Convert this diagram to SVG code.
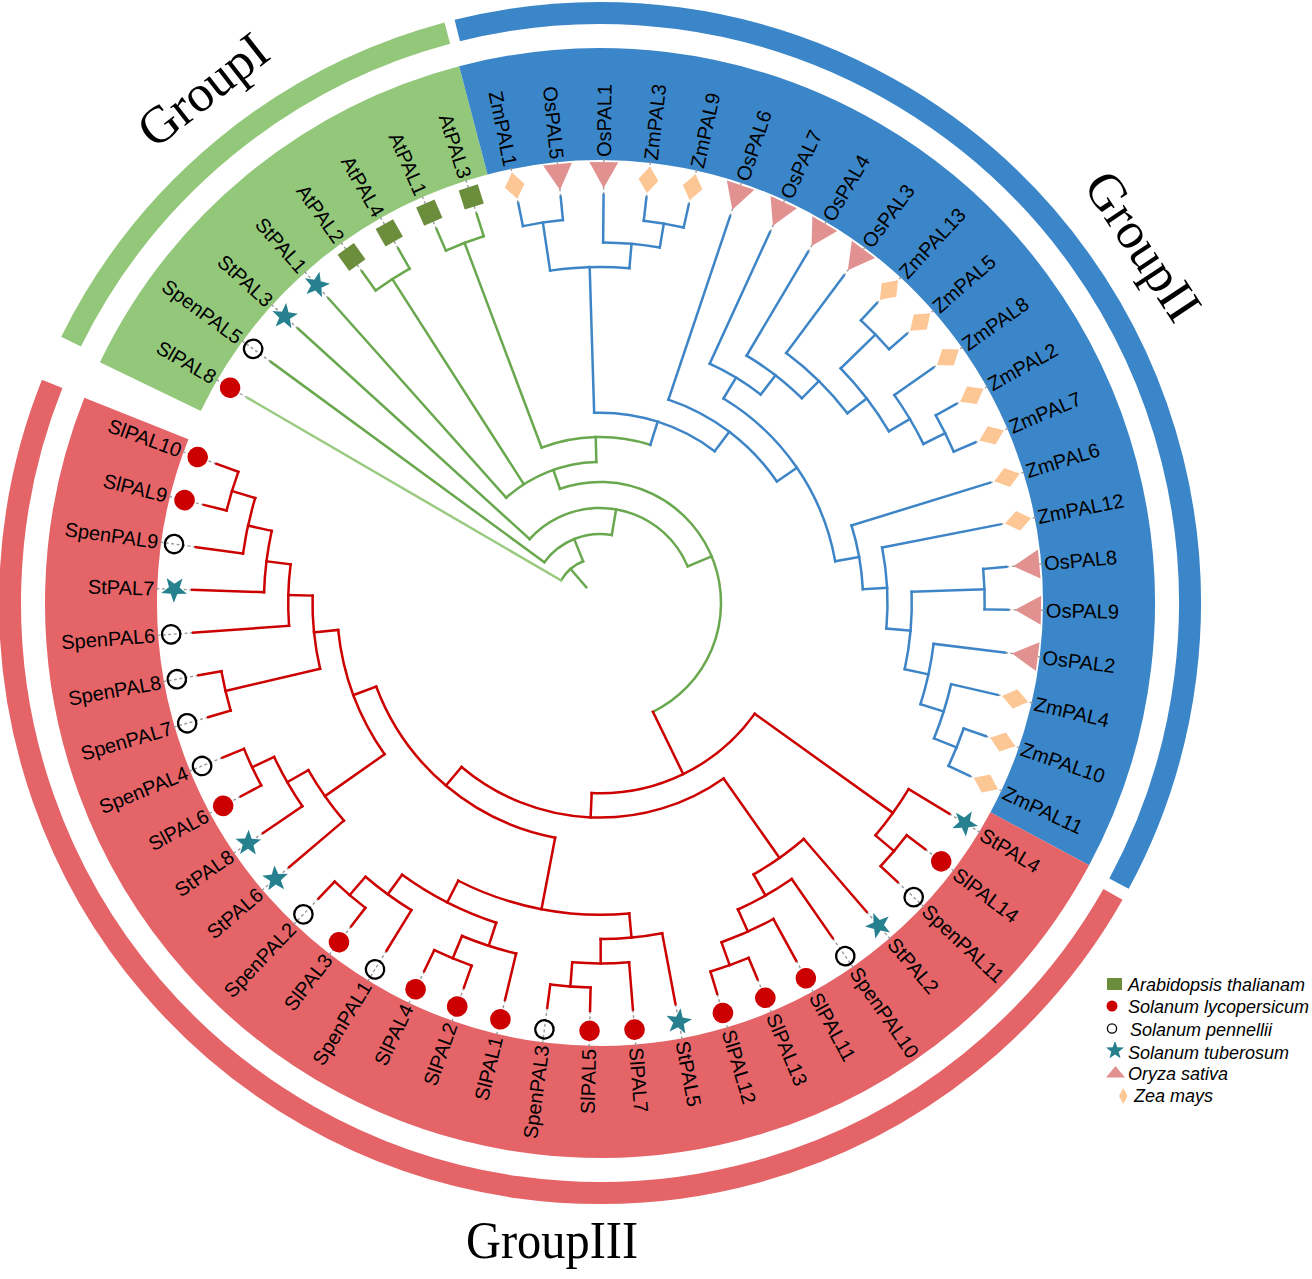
<svg xmlns="http://www.w3.org/2000/svg" width="1312" height="1279" viewBox="0 0 1312 1279">
<defs>
<style>
.t{font-family:"Liberation Sans",Arial,sans-serif;font-size:20px;fill:#000}
.e{text-anchor:end}
.gl{font-family:"Liberation Serif","Times New Roman",serif;font-size:52px;fill:#000}
.lg{font-family:"Liberation Sans",Arial,sans-serif;font-size:18px;font-style:italic;fill:#000}
.G{fill:none;stroke:#6aa84f;stroke-width:2.5;stroke-linecap:square}
.G2{stroke:#9acb80}
.B{fill:none;stroke:#3d85c6;stroke-width:2.5;stroke-linecap:square}
.R{fill:none;stroke:#cc0000;stroke-width:2.5;stroke-linecap:square}
.d{stroke:#9a9a9a;stroke-width:1.4;stroke-dasharray:3 2.5}
.band{fill:none;stroke-width:112}
.stripe{fill:none;stroke-width:22}
</style>
<polygon id="st0" points="0,-13.5 3.29,-4.53 12.84,-4.17 5.33,1.73 7.94,10.92 0,5.6 -7.94,10.92 -5.33,1.73 -12.84,-4.17 -3.29,-4.53" fill="#26808e"/>
<g id="star"><use href="#st0" transform="translate(426 0)"/></g>
<g id="dot"><circle cx="428" r="10.3" fill="#cc0000"/></g>
<g id="cir"><circle cx="430" r="9.2" fill="none" stroke="#000" stroke-width="2.3"/></g>
<g id="tri"><path d="M415,0 L441,-14.5 L441,14.5 Z" fill="#e29191"/></g>
<g id="dia"><path d="M412.7,0 L426,-10 L439.3,0 L426,10 Z" fill="#fdc695"/></g>
<g id="sq"><rect x="416" y="-10" width="20" height="20" fill="#6c8d3c"/></g>
</defs>
<rect width="1312" height="1279" fill="#fff"/>
<g id="bands" transform="translate(600 603)">
<circle class="band" r="499" stroke="#93c87b" pathLength="360" stroke-dasharray="49.6 310.4" transform="rotate(205.7)"/>
<circle class="band" r="499" stroke="#3a86c8" pathLength="360" stroke-dasharray="132.9 227.1" transform="rotate(255.3)"/>
<circle class="band" r="499" stroke="#e46468" pathLength="360" stroke-dasharray="173.5 186.5" transform="rotate(28.2)"/>
<circle class="stripe" r="590" stroke="#93c87b" pathLength="360" stroke-dasharray="48.7 311.3" transform="rotate(206.3)"/>
<circle class="stripe" r="590" stroke="#3a86c8" pathLength="360" stroke-dasharray="132.4 227.6" transform="rotate(256)"/>
<circle class="stripe" r="590" stroke="#e46468" pathLength="360" stroke-dasharray="172.2 187.8" transform="rotate(29.6)"/>
</g>
<g id="connectors" transform="translate(600 603)">
<g id="dashes" class="d">
<line x1="408" x2="446" transform="rotate(210.2)"/><line x1="408" x2="446" transform="rotate(216.23)"/><line x1="408" x2="446" transform="rotate(222.26)"/><line x1="408" x2="446" transform="rotate(228.29)"/><line x1="408" x2="446" transform="rotate(234.32)"/><line x1="408" x2="446" transform="rotate(240.35)"/><line x1="408" x2="446" transform="rotate(246.38)"/><line x1="408" x2="446" transform="rotate(252.41)"/><line x1="408" x2="446" transform="rotate(258.44)"/><line x1="408" x2="446" transform="rotate(264.47)"/>
<line x1="408" x2="446" transform="rotate(270.5)"/><line x1="408" x2="446" transform="rotate(276.53)"/><line x1="408" x2="446" transform="rotate(282.56)"/><line x1="408" x2="446" transform="rotate(288.59)"/><line x1="408" x2="446" transform="rotate(294.62)"/><line x1="408" x2="446" transform="rotate(300.65)"/><line x1="408" x2="446" transform="rotate(306.68)"/><line x1="408" x2="446" transform="rotate(312.71)"/><line x1="408" x2="446" transform="rotate(318.74)"/><line x1="408" x2="446" transform="rotate(324.77)"/>
<line x1="408" x2="446" transform="rotate(330.8)"/><line x1="408" x2="446" transform="rotate(336.83)"/><line x1="408" x2="446" transform="rotate(342.86)"/><line x1="408" x2="446" transform="rotate(348.89)"/><line x1="408" x2="446" transform="rotate(354.92)"/><line x1="408" x2="446" transform="rotate(0.95)"/><line x1="408" x2="446" transform="rotate(6.98)"/><line x1="408" x2="446" transform="rotate(13.01)"/><line x1="408" x2="446" transform="rotate(19.04)"/><line x1="408" x2="446" transform="rotate(25.07)"/>
<line x1="408" x2="446" transform="rotate(31.1)"/><line x1="408" x2="446" transform="rotate(37.13)"/><line x1="408" x2="446" transform="rotate(43.16)"/><line x1="408" x2="446" transform="rotate(49.19)"/><line x1="408" x2="446" transform="rotate(55.22)"/><line x1="408" x2="446" transform="rotate(61.25)"/><line x1="408" x2="446" transform="rotate(67.28)"/><line x1="408" x2="446" transform="rotate(73.31)"/><line x1="408" x2="446" transform="rotate(79.34)"/><line x1="408" x2="446" transform="rotate(85.37)"/>
<line x1="408" x2="446" transform="rotate(91.4)"/><line x1="408" x2="446" transform="rotate(97.43)"/><line x1="408" x2="446" transform="rotate(103.46)"/><line x1="408" x2="446" transform="rotate(109.49)"/><line x1="408" x2="446" transform="rotate(115.52)"/><line x1="408" x2="446" transform="rotate(121.55)"/><line x1="408" x2="446" transform="rotate(127.58)"/><line x1="408" x2="446" transform="rotate(133.61)"/><line x1="408" x2="446" transform="rotate(139.64)"/><line x1="408" x2="446" transform="rotate(145.67)"/>
<line x1="408" x2="446" transform="rotate(151.7)"/><line x1="408" x2="446" transform="rotate(157.73)"/><line x1="408" x2="446" transform="rotate(163.76)"/><line x1="408" x2="446" transform="rotate(169.79)"/><line x1="408" x2="446" transform="rotate(175.82)"/><line x1="408" x2="446" transform="rotate(181.85)"/><line x1="408" x2="446" transform="rotate(187.88)"/><line x1="408" x2="446" transform="rotate(193.91)"/><line x1="408" x2="446" transform="rotate(199.94)"/>
</g>
<g id="branches-groupI" class="G">
<circle r="384.7" pathLength="360" stroke-dasharray="6.03 360" transform="rotate(246.38)"/>
<circle r="384.7" pathLength="360" stroke-dasharray="6.03 360" transform="rotate(234.32)"/>
<circle r="141" pathLength="360" stroke-dasharray="40.23 360" transform="rotate(228.29)"/>
<circle r="166" pathLength="360" stroke-dasharray="38.26 360" transform="rotate(249.39)"/>
<circle r="121" pathLength="360" stroke-dasharray="173.39 360" transform="rotate(250.67)"/>
<circle r="95" pathLength="360" stroke-dasharray="115.1 360" transform="rotate(222.26)"/>
<circle r="69" pathLength="360" stroke-dasharray="63.57 360" transform="rotate(216.23)"/>
<circle r="45" pathLength="360" stroke-dasharray="37.8 360" transform="rotate(210.2)"/>
<line x1="384.7" x2="408" transform="rotate(246.38)"/>
<line x1="384.7" x2="408" transform="rotate(252.41)"/>
<line x1="384.7" x2="408" transform="rotate(234.32)"/>
<line x1="384.7" x2="408" transform="rotate(240.35)"/>
<line x1="141" x2="384.7" transform="rotate(237.34)"/>
<line x1="141" x2="408" transform="rotate(228.29)"/>
<line x1="166" x2="384.7" transform="rotate(249.39)"/>
<line x1="141" x2="166" transform="rotate(268.52)"/>
<line x1="121" x2="141" transform="rotate(250.67)"/>
<line x1="95" x2="121" transform="rotate(337.36)"/>
<line x1="95" x2="408" transform="rotate(222.26)"/>
<line x1="69" x2="95" transform="rotate(279.8)"/>
<line x1="69" x2="408" transform="rotate(216.23)"/>
<line x1="45" x2="69" transform="rotate(248)"/>
<line x1="21" x2="45" transform="rotate(229.1)"/>
<line class="G2" x1="45" x2="408" transform="rotate(210.2)"/>
</g>
<g id="branches-groupII" class="B">
<circle r="384.7" pathLength="360" stroke-dasharray="6.03 360" transform="rotate(258.44)"/>
<circle r="384.7" pathLength="360" stroke-dasharray="6.03 360" transform="rotate(276.53)"/>
<circle r="360.4" pathLength="360" stroke-dasharray="9.05 360" transform="rotate(270.5)"/>
<circle r="336.1" pathLength="360" stroke-dasharray="13.57 360" transform="rotate(261.46)"/>
<circle r="190.3" pathLength="360" stroke-dasharray="38.82 360" transform="rotate(268.24)"/>
<circle r="214.6" pathLength="360" stroke-dasharray="36.94 360" transform="rotate(288.59)"/>
<circle r="238.9" pathLength="360" stroke-dasharray="48.81 360" transform="rotate(301.12)"/>
<circle r="263.2" pathLength="360" stroke-dasharray="13.01 360" transform="rotate(294.62)"/>
<circle r="287.5" pathLength="360" stroke-dasharray="13.95 360" transform="rotate(300.65)"/>
<circle r="311.8" pathLength="360" stroke-dasharray="15.83 360" transform="rotate(306.68)"/>
<circle r="336.1" pathLength="360" stroke-dasharray="13.57 360" transform="rotate(315.73)"/>
<circle r="384.7" pathLength="360" stroke-dasharray="6.03 360" transform="rotate(312.71)"/>
<circle r="360.4" pathLength="360" stroke-dasharray="9.05 360" transform="rotate(324.77)"/>
<circle r="384.7" pathLength="360" stroke-dasharray="6.03 360" transform="rotate(330.8)"/>
<circle r="263.2" pathLength="360" stroke-dasharray="14.13 360" transform="rotate(342.86)"/>
<circle r="287.5" pathLength="360" stroke-dasharray="16.21 360" transform="rotate(348.89)"/>
<circle r="311.8" pathLength="360" stroke-dasharray="14.32 360" transform="rotate(357.94)"/>
<circle r="384.7" pathLength="360" stroke-dasharray="6.03 360" transform="rotate(354.92)"/>
<circle r="336.1" pathLength="360" stroke-dasharray="10.55 360" transform="rotate(6.98)"/>
<circle r="360.4" pathLength="360" stroke-dasharray="9.05 360" transform="rotate(13.01)"/>
<circle r="384.7" pathLength="360" stroke-dasharray="6.03 360" transform="rotate(19.04)"/>
<line x1="384.7" x2="408" transform="rotate(258.44)"/>
<line x1="384.7" x2="408" transform="rotate(264.47)"/>
<line x1="384.7" x2="408" transform="rotate(276.53)"/>
<line x1="384.7" x2="408" transform="rotate(282.56)"/>
<line x1="360.4" x2="408" transform="rotate(270.5)"/>
<line x1="360.4" x2="384.7" transform="rotate(279.55)"/>
<line x1="336.1" x2="384.7" transform="rotate(261.46)"/>
<line x1="336.1" x2="360.4" transform="rotate(275.02)"/>
<line x1="190.3" x2="336.1" transform="rotate(268.24)"/>
<line x1="166" x2="190.3" transform="rotate(287.65)"/>
<line x1="190.3" x2="214.6" transform="rotate(307.06)"/>
<line x1="214.6" x2="408" transform="rotate(288.59)"/>
<line x1="214.6" x2="238.9" transform="rotate(325.53)"/>
<line x1="238.9" x2="263.2" transform="rotate(301.12)"/>
<line x1="238.9" x2="263.2" transform="rotate(349.93)"/>
<line x1="263.2" x2="408" transform="rotate(294.62)"/>
<line x1="263.2" x2="287.5" transform="rotate(307.63)"/>
<line x1="287.5" x2="408" transform="rotate(300.65)"/>
<line x1="287.5" x2="311.8" transform="rotate(314.6)"/>
<line x1="311.8" x2="408" transform="rotate(306.68)"/>
<line x1="311.8" x2="336.1" transform="rotate(322.51)"/>
<line x1="336.1" x2="384.7" transform="rotate(315.73)"/>
<line x1="336.1" x2="360.4" transform="rotate(329.29)"/>
<line x1="384.7" x2="408" transform="rotate(312.71)"/>
<line x1="384.7" x2="408" transform="rotate(318.74)"/>
<line x1="360.4" x2="408" transform="rotate(324.77)"/>
<line x1="360.4" x2="384.7" transform="rotate(333.82)"/>
<line x1="384.7" x2="408" transform="rotate(330.8)"/>
<line x1="384.7" x2="408" transform="rotate(336.83)"/>
<line x1="263.2" x2="408" transform="rotate(342.86)"/>
<line x1="263.2" x2="287.5" transform="rotate(356.99)"/>
<line x1="287.5" x2="408" transform="rotate(348.89)"/>
<line x1="287.5" x2="311.8" transform="rotate(365.1)"/>
<line x1="311.8" x2="384.7" transform="rotate(357.94)"/>
<line x1="384.7" x2="408" transform="rotate(354.92)"/>
<line x1="384.7" x2="408" transform="rotate(360.95)"/>
<line x1="311.8" x2="336.1" transform="rotate(372.26)"/>
<line x1="336.1" x2="408" transform="rotate(366.98)"/>
<line x1="336.1" x2="360.4" transform="rotate(377.53)"/>
<line x1="360.4" x2="408" transform="rotate(373.01)"/>
<line x1="360.4" x2="384.7" transform="rotate(382.06)"/>
<line x1="384.7" x2="408" transform="rotate(379.04)"/>
<line x1="384.7" x2="408" transform="rotate(385.07)"/>
</g>
<g id="branches-groupIII" class="R">
<circle r="384.7" pathLength="360" stroke-dasharray="6.03 360" transform="rotate(37.13)"/>
<circle r="360.4" pathLength="360" stroke-dasharray="9.05 360" transform="rotate(31.1)"/>
<circle r="190.3" pathLength="360" stroke-dasharray="56.88 360" transform="rotate(35.62)"/>
<circle r="384.7" pathLength="360" stroke-dasharray="6.03 360" transform="rotate(67.28)"/>
<circle r="360.4" pathLength="360" stroke-dasharray="9.05 360" transform="rotate(61.25)"/>
<circle r="336.1" pathLength="360" stroke-dasharray="10.55 360" transform="rotate(55.22)"/>
<circle r="311.8" pathLength="360" stroke-dasharray="11.31 360" transform="rotate(49.19)"/>
<circle r="214.6" pathLength="360" stroke-dasharray="75.33 360" transform="rotate(54.84)"/>
<circle r="384.7" pathLength="360" stroke-dasharray="6.03 360" transform="rotate(91.4)"/>
<circle r="360.4" pathLength="360" stroke-dasharray="9.05 360" transform="rotate(85.37)"/>
<circle r="336.1" pathLength="360" stroke-dasharray="10.55 360" transform="rotate(79.34)"/>
<circle r="384.7" pathLength="360" stroke-dasharray="6.03 360" transform="rotate(109.49)"/>
<circle r="360.4" pathLength="360" stroke-dasharray="9.05 360" transform="rotate(103.46)"/>
<circle r="384.7" pathLength="360" stroke-dasharray="6.03 360" transform="rotate(127.58)"/>
<circle r="360.4" pathLength="360" stroke-dasharray="9.05 360" transform="rotate(121.55)"/>
<circle r="336.1" pathLength="360" stroke-dasharray="18.09 360" transform="rotate(107.98)"/>
<circle r="311.8" pathLength="360" stroke-dasharray="32.41 360" transform="rotate(84.62)"/>
<circle r="384.7" pathLength="360" stroke-dasharray="6.03 360" transform="rotate(151.7)"/>
<circle r="360.4" pathLength="360" stroke-dasharray="9.05 360" transform="rotate(145.67)"/>
<circle r="336.1" pathLength="360" stroke-dasharray="10.55 360" transform="rotate(139.64)"/>
<circle r="384.7" pathLength="360" stroke-dasharray="6.03 360" transform="rotate(163.76)"/>
<circle r="384.7" pathLength="360" stroke-dasharray="6.03 360" transform="rotate(193.91)"/>
<circle r="360.4" pathLength="360" stroke-dasharray="9.05 360" transform="rotate(187.88)"/>
<circle r="336.1" pathLength="360" stroke-dasharray="10.55 360" transform="rotate(181.85)"/>
<circle r="311.8" pathLength="360" stroke-dasharray="11.31 360" transform="rotate(175.82)"/>
<circle r="287.5" pathLength="360" stroke-dasharray="14.7 360" transform="rotate(166.78)"/>
<circle r="263.2" pathLength="360" stroke-dasharray="29.2 360" transform="rotate(144.92)"/>
<circle r="238.9" pathLength="360" stroke-dasharray="58.7 360" transform="rotate(100.82)"/>
<line x1="360.4" x2="408" transform="rotate(31.1)"/>
<line x1="384.7" x2="408" transform="rotate(37.13)"/>
<line x1="384.7" x2="408" transform="rotate(43.16)"/>
<line x1="360.4" x2="384.7" transform="rotate(40.15)"/>
<line x1="190.3" x2="360.4" transform="rotate(35.62)"/>
<line x1="121" x2="190.3" transform="rotate(64.06)"/>
<line x1="190.3" x2="214.6" transform="rotate(92.5)"/>
<line x1="214.6" x2="311.8" transform="rotate(54.84)"/>
<line x1="311.8" x2="408" transform="rotate(49.19)"/>
<line x1="311.8" x2="336.1" transform="rotate(60.5)"/>
<line x1="336.1" x2="408" transform="rotate(55.22)"/>
<line x1="336.1" x2="360.4" transform="rotate(65.77)"/>
<line x1="360.4" x2="408" transform="rotate(61.25)"/>
<line x1="360.4" x2="384.7" transform="rotate(70.3)"/>
<line x1="384.7" x2="408" transform="rotate(67.28)"/>
<line x1="384.7" x2="408" transform="rotate(73.31)"/>
<line x1="214.6" x2="238.9" transform="rotate(130.17)"/>
<line x1="238.9" x2="311.8" transform="rotate(100.82)"/>
<line x1="238.9" x2="263.2" transform="rotate(159.52)"/>
<line x1="311.8" x2="336.1" transform="rotate(84.62)"/>
<line x1="336.1" x2="408" transform="rotate(79.34)"/>
<line x1="336.1" x2="360.4" transform="rotate(89.89)"/>
<line x1="360.4" x2="408" transform="rotate(85.37)"/>
<line x1="360.4" x2="384.7" transform="rotate(94.42)"/>
<line x1="384.7" x2="408" transform="rotate(91.4)"/>
<line x1="384.7" x2="408" transform="rotate(97.43)"/>
<line x1="311.8" x2="336.1" transform="rotate(117.03)"/>
<line x1="336.1" x2="360.4" transform="rotate(107.98)"/>
<line x1="360.4" x2="408" transform="rotate(103.46)"/>
<line x1="360.4" x2="384.7" transform="rotate(112.51)"/>
<line x1="384.7" x2="408" transform="rotate(109.49)"/>
<line x1="384.7" x2="408" transform="rotate(115.52)"/>
<line x1="336.1" x2="360.4" transform="rotate(126.07)"/>
<line x1="360.4" x2="408" transform="rotate(121.55)"/>
<line x1="360.4" x2="384.7" transform="rotate(130.6)"/>
<line x1="384.7" x2="408" transform="rotate(127.58)"/>
<line x1="384.7" x2="408" transform="rotate(133.61)"/>
<line x1="263.2" x2="336.1" transform="rotate(144.92)"/>
<line x1="336.1" x2="408" transform="rotate(139.64)"/>
<line x1="336.1" x2="360.4" transform="rotate(150.19)"/>
<line x1="360.4" x2="408" transform="rotate(145.67)"/>
<line x1="360.4" x2="384.7" transform="rotate(154.72)"/>
<line x1="384.7" x2="408" transform="rotate(151.7)"/>
<line x1="384.7" x2="408" transform="rotate(157.73)"/>
<line x1="263.2" x2="287.5" transform="rotate(174.12)"/>
<line x1="287.5" x2="384.7" transform="rotate(166.78)"/>
<line x1="384.7" x2="408" transform="rotate(163.76)"/>
<line x1="384.7" x2="408" transform="rotate(169.79)"/>
<line x1="287.5" x2="311.8" transform="rotate(181.47)"/>
<line x1="311.8" x2="408" transform="rotate(175.82)"/>
<line x1="311.8" x2="336.1" transform="rotate(187.13)"/>
<line x1="336.1" x2="408" transform="rotate(181.85)"/>
<line x1="336.1" x2="360.4" transform="rotate(192.4)"/>
<line x1="360.4" x2="408" transform="rotate(187.88)"/>
<line x1="360.4" x2="384.7" transform="rotate(196.93)"/>
<line x1="384.7" x2="408" transform="rotate(193.91)"/>
<line x1="384.7" x2="408" transform="rotate(199.94)"/>
</g>
</g>
<g id="leaves" transform="translate(600 603)">
<g id="n-SlPAL8"><use href="#dot" transform="rotate(210.2)"/><text class="t e" transform="rotate(210.2) translate(446 0) rotate(180)" dy=".35em">SlPAL8</text></g>
<g id="n-SpenPAL5"><use href="#cir" transform="rotate(216.23)"/><text class="t e" transform="rotate(216.23) translate(446 0) rotate(180)" dy=".35em">SpenPAL5</text></g>
<g id="n-StPAL3"><use href="#star" transform="rotate(222.26)"/><text class="t e" transform="rotate(222.26) translate(446 0) rotate(180)" dy=".35em">StPAL3</text></g>
<g id="n-StPAL1"><use href="#star" transform="rotate(228.29)"/><text class="t e" transform="rotate(228.29) translate(446 0) rotate(180)" dy=".35em">StPAL1</text></g>
<g id="n-AtPAL2"><use href="#sq" transform="rotate(234.32)"/><text class="t e" transform="rotate(234.32) translate(446 0) rotate(180)" dy=".35em">AtPAL2</text></g>
<g id="n-AtPAL4"><use href="#sq" transform="rotate(240.35)"/><text class="t e" transform="rotate(240.35) translate(446 0) rotate(180)" dy=".35em">AtPAL4</text></g>
<g id="n-AtPAL1"><use href="#sq" transform="rotate(246.38)"/><text class="t e" transform="rotate(246.38) translate(446 0) rotate(180)" dy=".35em">AtPAL1</text></g>
<g id="n-AtPAL3"><use href="#sq" transform="rotate(252.41)"/><text class="t e" transform="rotate(252.41) translate(446 0) rotate(180)" dy=".35em">AtPAL3</text></g>
<g id="n-ZmPAL1"><use href="#dia" transform="rotate(258.44)"/><text class="t e" transform="rotate(258.44) translate(446 0) rotate(180)" dy=".35em">ZmPAL1</text></g>
<g id="n-OsPAL5"><use href="#tri" transform="rotate(264.47)"/><text class="t e" transform="rotate(264.47) translate(446 0) rotate(180)" dy=".35em">OsPAL5</text></g>
<g id="n-OsPAL1"><use href="#tri" transform="rotate(270.5)"/><text class="t" transform="rotate(270.5) translate(446 0)" dy=".35em">OsPAL1</text></g>
<g id="n-ZmPAL3"><use href="#dia" transform="rotate(276.53)"/><text class="t" transform="rotate(276.53) translate(446 0)" dy=".35em">ZmPAL3</text></g>
<g id="n-ZmPAL9"><use href="#dia" transform="rotate(282.56)"/><text class="t" transform="rotate(282.56) translate(446 0)" dy=".35em">ZmPAL9</text></g>
<g id="n-OsPAL6"><use href="#tri" transform="rotate(288.59)"/><text class="t" transform="rotate(288.59) translate(446 0)" dy=".35em">OsPAL6</text></g>
<g id="n-OsPAL7"><use href="#tri" transform="rotate(294.62)"/><text class="t" transform="rotate(294.62) translate(446 0)" dy=".35em">OsPAL7</text></g>
<g id="n-OsPAL4"><use href="#tri" transform="rotate(300.65)"/><text class="t" transform="rotate(300.65) translate(446 0)" dy=".35em">OsPAL4</text></g>
<g id="n-OsPAL3"><use href="#tri" transform="rotate(306.68)"/><text class="t" transform="rotate(306.68) translate(446 0)" dy=".35em">OsPAL3</text></g>
<g id="n-ZmPAL13"><use href="#dia" transform="rotate(312.71)"/><text class="t" transform="rotate(312.71) translate(446 0)" dy=".35em">ZmPAL13</text></g>
<g id="n-ZmPAL5"><use href="#dia" transform="rotate(318.74)"/><text class="t" transform="rotate(318.74) translate(446 0)" dy=".35em">ZmPAL5</text></g>
<g id="n-ZmPAL8"><use href="#dia" transform="rotate(324.77)"/><text class="t" transform="rotate(324.77) translate(446 0)" dy=".35em">ZmPAL8</text></g>
<g id="n-ZmPAL2"><use href="#dia" transform="rotate(330.8)"/><text class="t" transform="rotate(330.8) translate(446 0)" dy=".35em">ZmPAL2</text></g>
<g id="n-ZmPAL7"><use href="#dia" transform="rotate(336.83)"/><text class="t" transform="rotate(336.83) translate(446 0)" dy=".35em">ZmPAL7</text></g>
<g id="n-ZmPAL6"><use href="#dia" transform="rotate(342.86)"/><text class="t" transform="rotate(342.86) translate(446 0)" dy=".35em">ZmPAL6</text></g>
<g id="n-ZmPAL12"><use href="#dia" transform="rotate(348.89)"/><text class="t" transform="rotate(348.89) translate(446 0)" dy=".35em">ZmPAL12</text></g>
<g id="n-OsPAL8"><use href="#tri" transform="rotate(354.92)"/><text class="t" transform="rotate(354.92) translate(446 0)" dy=".35em">OsPAL8</text></g>
<g id="n-OsPAL9"><use href="#tri" transform="rotate(0.95)"/><text class="t" transform="rotate(0.95) translate(446 0)" dy=".35em">OsPAL9</text></g>
<g id="n-OsPAL2"><use href="#tri" transform="rotate(6.98)"/><text class="t" transform="rotate(6.98) translate(446 0)" dy=".35em">OsPAL2</text></g>
<g id="n-ZmPAL4"><use href="#dia" transform="rotate(13.01)"/><text class="t" transform="rotate(13.01) translate(446 0)" dy=".35em">ZmPAL4</text></g>
<g id="n-ZmPAL10"><use href="#dia" transform="rotate(19.04)"/><text class="t" transform="rotate(19.04) translate(446 0)" dy=".35em">ZmPAL10</text></g>
<g id="n-ZmPAL11"><use href="#dia" transform="rotate(25.07)"/><text class="t" transform="rotate(25.07) translate(446 0)" dy=".35em">ZmPAL11</text></g>
<g id="n-StPAL4"><use href="#star" transform="rotate(31.1)"/><text class="t" transform="rotate(31.1) translate(446 0)" dy=".35em">StPAL4</text></g>
<g id="n-SlPAL14"><use href="#dot" transform="rotate(37.13)"/><text class="t" transform="rotate(37.13) translate(446 0)" dy=".35em">SlPAL14</text></g>
<g id="n-SpenPAL11"><use href="#cir" transform="rotate(43.16)"/><text class="t" transform="rotate(43.16) translate(446 0)" dy=".35em">SpenPAL11</text></g>
<g id="n-StPAL2"><use href="#star" transform="rotate(49.19)"/><text class="t" transform="rotate(49.19) translate(446 0)" dy=".35em">StPAL2</text></g>
<g id="n-SpenPAL10"><use href="#cir" transform="rotate(55.22)"/><text class="t" transform="rotate(55.22) translate(446 0)" dy=".35em">SpenPAL10</text></g>
<g id="n-SlPAL11"><use href="#dot" transform="rotate(61.25)"/><text class="t" transform="rotate(61.25) translate(446 0)" dy=".35em">SlPAL11</text></g>
<g id="n-SlPAL13"><use href="#dot" transform="rotate(67.28)"/><text class="t" transform="rotate(67.28) translate(446 0)" dy=".35em">SlPAL13</text></g>
<g id="n-SlPAL12"><use href="#dot" transform="rotate(73.31)"/><text class="t" transform="rotate(73.31) translate(446 0)" dy=".35em">SlPAL12</text></g>
<g id="n-StPAL5"><use href="#star" transform="rotate(79.34)"/><text class="t" transform="rotate(79.34) translate(446 0)" dy=".35em">StPAL5</text></g>
<g id="n-SlPAL7"><use href="#dot" transform="rotate(85.37)"/><text class="t" transform="rotate(85.37) translate(446 0)" dy=".35em">SlPAL7</text></g>
<g id="n-SlPAL5"><use href="#dot" transform="rotate(91.4)"/><text class="t e" transform="rotate(91.4) translate(446 0) rotate(180)" dy=".35em">SlPAL5</text></g>
<g id="n-SpenPAL3"><use href="#cir" transform="rotate(97.43)"/><text class="t e" transform="rotate(97.43) translate(446 0) rotate(180)" dy=".35em">SpenPAL3</text></g>
<g id="n-SlPAL1"><use href="#dot" transform="rotate(103.46)"/><text class="t e" transform="rotate(103.46) translate(446 0) rotate(180)" dy=".35em">SlPAL1</text></g>
<g id="n-SlPAL2"><use href="#dot" transform="rotate(109.49)"/><text class="t e" transform="rotate(109.49) translate(446 0) rotate(180)" dy=".35em">SlPAL2</text></g>
<g id="n-SlPAL4"><use href="#dot" transform="rotate(115.52)"/><text class="t e" transform="rotate(115.52) translate(446 0) rotate(180)" dy=".35em">SlPAL4</text></g>
<g id="n-SpenPAL1"><use href="#cir" transform="rotate(121.55)"/><text class="t e" transform="rotate(121.55) translate(446 0) rotate(180)" dy=".35em">SpenPAL1</text></g>
<g id="n-SlPAL3"><use href="#dot" transform="rotate(127.58)"/><text class="t e" transform="rotate(127.58) translate(446 0) rotate(180)" dy=".35em">SlPAL3</text></g>
<g id="n-SpenPAL2"><use href="#cir" transform="rotate(133.61)"/><text class="t e" transform="rotate(133.61) translate(446 0) rotate(180)" dy=".35em">SpenPAL2</text></g>
<g id="n-StPAL6"><use href="#star" transform="rotate(139.64)"/><text class="t e" transform="rotate(139.64) translate(446 0) rotate(180)" dy=".35em">StPAL6</text></g>
<g id="n-StPAL8"><use href="#star" transform="rotate(145.67)"/><text class="t e" transform="rotate(145.67) translate(446 0) rotate(180)" dy=".35em">StPAL8</text></g>
<g id="n-SlPAL6"><use href="#dot" transform="rotate(151.7)"/><text class="t e" transform="rotate(151.7) translate(446 0) rotate(180)" dy=".35em">SlPAL6</text></g>
<g id="n-SpenPAL4"><use href="#cir" transform="rotate(157.73)"/><text class="t e" transform="rotate(157.73) translate(446 0) rotate(180)" dy=".35em">SpenPAL4</text></g>
<g id="n-SpenPAL7"><use href="#cir" transform="rotate(163.76)"/><text class="t e" transform="rotate(163.76) translate(446 0) rotate(180)" dy=".35em">SpenPAL7</text></g>
<g id="n-SpenPAL8"><use href="#cir" transform="rotate(169.79)"/><text class="t e" transform="rotate(169.79) translate(446 0) rotate(180)" dy=".35em">SpenPAL8</text></g>
<g id="n-SpenPAL6"><use href="#cir" transform="rotate(175.82)"/><text class="t e" transform="rotate(175.82) translate(446 0) rotate(180)" dy=".35em">SpenPAL6</text></g>
<g id="n-StPAL7"><use href="#star" transform="rotate(181.85)"/><text class="t e" transform="rotate(181.85) translate(446 0) rotate(180)" dy=".35em">StPAL7</text></g>
<g id="n-SpenPAL9"><use href="#cir" transform="rotate(187.88)"/><text class="t e" transform="rotate(187.88) translate(446 0) rotate(180)" dy=".35em">SpenPAL9</text></g>
<g id="n-SlPAL9"><use href="#dot" transform="rotate(193.91)"/><text class="t e" transform="rotate(193.91) translate(446 0) rotate(180)" dy=".35em">SlPAL9</text></g>
<g id="n-SlPAL10"><use href="#dot" transform="rotate(199.94)"/><text class="t e" transform="rotate(199.94) translate(446 0) rotate(180)" dy=".35em">SlPAL10</text></g>
</g>
<g id="group-labels">
<text class="gl" text-anchor="middle" transform="translate(203 90) rotate(-38)" dy=".33em">GroupI</text>
<text class="gl" text-anchor="middle" transform="translate(1143 246) rotate(56.5)" dy=".33em">GroupII</text>
<text class="gl" text-anchor="middle" x="552" y="1258" textLength="172" lengthAdjust="spacingAndGlyphs">GroupIII</text>
</g>
<g id="legend">
<rect x="1107" y="978" width="15" height="12" fill="#6c8d3c"/>
<text class="lg" x="1128" y="991">Arabidopsis thalianam</text>
<circle cx="1112" cy="1006" r="5.5" fill="#cc0000"/>
<text class="lg" x="1128" y="1013">Solanum lycopersicum</text>
<circle cx="1112" cy="1028.5" r="4.6" fill="none" stroke="#000" stroke-width="1.3"/>
<text class="lg" x="1130" y="1036">Solanum pennellii</text>
<use href="#st0" transform="translate(1115 1050.5) scale(0.7)"/>
<text class="lg" x="1128" y="1059">Solanum tuberosum</text>
<path d="M1106,1077.5 L1115.5,1066 L1125,1077.5 Z" fill="#e29191"/>
<text class="lg" x="1128" y="1080">Oryza sativa</text>
<path d="M1123.3,1088 L1127.5,1096 L1123.3,1104 L1119,1096 Z" fill="#fdc695"/>
<text class="lg" x="1134" y="1102">Zea mays</text>
</g>
</svg>
